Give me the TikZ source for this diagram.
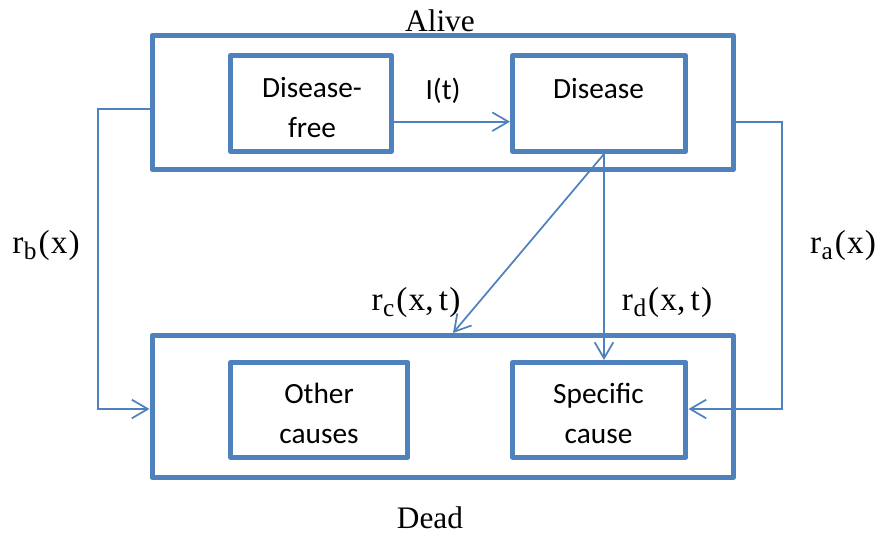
\documentclass[tikz,border=0pt]{standalone}
\usepackage{fontspec}
\setmainfont{Liberation Serif}
\newfontfamily\boxfont{Carlito}
\usetikzlibrary{arrows.meta}
\definecolor{boxblue}{HTML}{4F81BD}
% rate label: r with a lowered subscript and its arguments
\newcommand\ratelabel[2]{r\kern0.4pt\raisebox{-4.5pt}{\fontsize{19}{19}\selectfont #1}\kern1.5pt(\kern0.8pt#2\kern0.8pt)}
\tikzset{
  statebox/.style={draw=boxblue, line width=3.75pt, line join=round, inner sep=0pt},
  flow/.style={draw=boxblue, line width=1.3pt,
    -{Straight Barb[length=12pt,width=14pt,line width=1.3pt]}},
  boxtext/.style={font=\boxfont\fontsize{22}{30}\selectfont, align=center, inner sep=0pt, anchor=base},
  titletext/.style={font=\fontsize{23.5}{28}\selectfont, inner sep=0pt, anchor=base},
  ratetext/.style={font=\fontsize{25}{30}\selectfont, inner sep=0pt, anchor=base}
}
\begin{document}
\begin{tikzpicture}[x=0.75pt,y=-0.75pt]
\useasboundingbox (0,0) rectangle (880,535);

% compartments
\node[statebox, minimum width=436.1pt, minimum height=100.5pt] (alive) at (442.75,102.5) {};
\node[statebox, minimum width=120.75pt, minimum height=72pt] (free) at (311,103.5) {};
\node[statebox, minimum width=129.75pt, minimum height=72pt] (dis) at (599,103.5) {};
\node[statebox, minimum width=436.1pt, minimum height=106.5pt] (dead) at (442.75,406.5) {};
\node[statebox, minimum width=133.1pt, minimum height=70.9pt] (other) at (319.25,409.75) {};
\node[statebox, minimum width=130.1pt, minimum height=70.9pt] (spec) at (599.25,409.75) {};

% box texts
\node[boxtext] (freetxt) at (312,137) {Disease-\\free};
\node[boxtext] (distxt) at (598.5,98) {Disease};
\node[boxtext] (othertxt) at (319,443) {Other\\causes};
\node[boxtext] (spectxt) at (598.5,443) {Specific\\cause};

% titles
\node[titletext] (alivetxt) at (440,32) {Alive};
\node[titletext] (deadtxt) at (430,528) {Dead};

% routing points
\coordinate (lbtop) at (98,109);
\coordinate (lbbot) at (98,409);
\coordinate (ratop) at (782,121.7);
\coordinate (rabot) at (782,409);
\coordinate (iy) at (0,121.7);
\coordinate (dsrc) at (604,0);
\coordinate (ctip) at (453,0);

% transitions
\draw[flow] (free.east |- iy) -- (dis.west |- iy);
\draw[flow] (alive.west |- lbtop) -- (lbtop) -- (lbbot) -- (dead.west |- lbbot);
\draw[flow] (alive.east |- ratop) -- (ratop) -- (rabot) -- (spec.east |- rabot);
\draw[flow] (dsrc |- dis.south) -- (ctip |- dead.north);
\draw[flow] (dsrc |- dis.south) -- (dsrc |- spec.north);

% rate labels
\node[boxtext] (itxt) at (443,99) {I(t)};
\node[ratetext] (rb) at (46,253) {\ratelabel{b}{x}};
\node[ratetext] (ra) at (843,253) {\ratelabel{a}{x}};
\node[ratetext] (rc) at (416,310) {\ratelabel{c}{x,\kern4pt t}};
\node[ratetext] (rd) at (667,310) {\ratelabel{d}{x,\kern4pt t}};
\end{tikzpicture}
\end{document}
